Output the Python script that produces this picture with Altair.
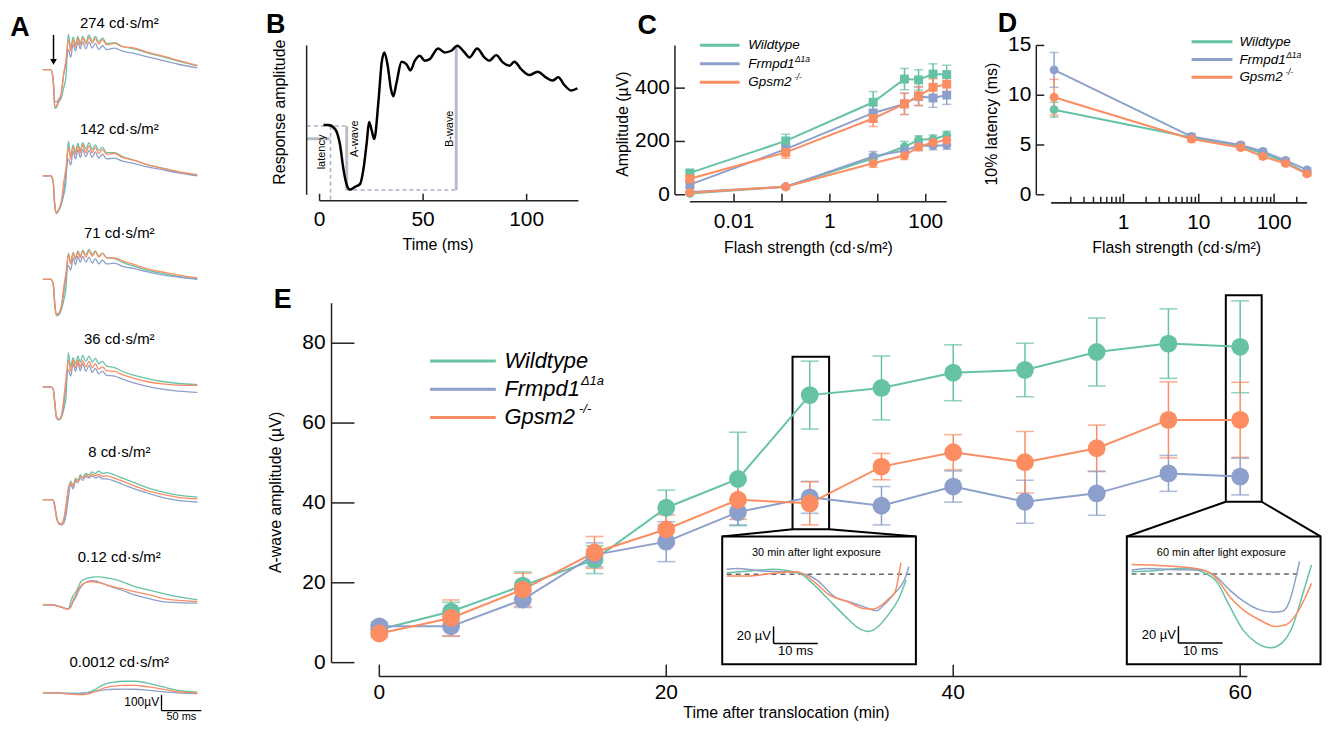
import altair as alt
import pandas as pd

FONT = "Liberation Sans"
AXC = "#222222"

GENOS = ["Wildtype", "Frmpd1", "Gpsm2"]
GENO_SUPS = ["", "Δ1a", "-/-"]
COLORS = ["#66c2a5", "#8da0cb", "#fc8d62"]

# ---------------- Panel A : example ERG traces (µV) ----------------
A_LABELS = ["274 cd·s/m²", "142 cd·s/m²", "71 cd·s/m²", "36 cd·s/m²",
            "8 cd·s/m²", "0.12 cd·s/m²", "0.0012 cd·s/m²"]
A_T = [0, 10, 13, 15, 17, 20, 23, 26, 29, 32, 35, 38, 41, 44, 47, 50, 54, 58,
       62, 66, 70, 75, 80, 90, 100, 115, 130, 150, 170, 194]
A_274 = {
    "Wildtype": [0, 0, -70, -250, -245, -210, -185, -120, -50, 230, 140, 210, 165, 215, 170, 215, 180, 225, 185, 215, 180, 205, 170, 175, 150, 135, 110, 85, 55, 25],
    "Frmpd1": [0, 0, -60, -205, -210, -190, -160, -40, 40, 130, 80, 165, 120, 180, 135, 180, 135, 180, 140, 170, 130, 155, 130, 140, 120, 105, 85, 60, 35, 12],
    "Gpsm2": [0, 0, -65, -240, -235, -200, -160, -30, 60, 195, 120, 195, 145, 205, 160, 205, 165, 210, 170, 205, 165, 195, 160, 170, 150, 140, 115, 90, 60, 28],
}
A_142 = {
    "Wildtype": [0, 0, -40, -200, -245, -225, -190, -130, -40, 225, 130, 200, 160, 210, 165, 215, 175, 215, 170, 200, 165, 185, 150, 150, 125, 100, 75, 50, 25, 5],
    "Frmpd1": [0, 0, -35, -180, -235, -220, -180, -110, 20, 110, 70, 160, 110, 170, 120, 170, 125, 165, 120, 155, 115, 140, 110, 115, 95, 80, 60, 40, 20, 0],
    "Gpsm2": [0, 0, -40, -195, -240, -215, -170, -50, 50, 185, 110, 190, 140, 195, 150, 200, 150, 195, 150, 185, 145, 170, 140, 145, 120, 100, 75, 50, 28, 8],
}
A_71 = {
    "Wildtype": [0, 0, -30, -170, -235, -230, -200, -140, -60, 170, 110, 175, 140, 185, 150, 190, 160, 195, 160, 185, 150, 170, 140, 135, 110, 85, 60, 40, 20, 5],
    "Frmpd1": [0, 0, -25, -150, -225, -220, -185, -100, 20, 90, 60, 140, 95, 150, 110, 150, 110, 145, 105, 135, 100, 125, 100, 105, 85, 70, 50, 30, 15, 0],
    "Gpsm2": [0, 0, -30, -165, -230, -220, -180, -60, 40, 160, 100, 170, 130, 180, 140, 185, 145, 185, 150, 180, 145, 170, 140, 140, 120, 95, 70, 48, 28, 10],
}
A_36 = {
    "Wildtype": [0, 0, -15, -110, -200, -215, -200, -150, -70, 220, 130, 190, 150, 200, 160, 205, 165, 200, 160, 185, 150, 165, 135, 125, 100, 75, 55, 35, 22, 15],
    "Frmpd1": [0, 0, -12, -95, -190, -210, -195, -130, 10, 110, 70, 150, 100, 155, 105, 150, 100, 140, 95, 120, 85, 100, 75, 70, 50, 25, 5, -15, -28, -36],
    "Gpsm2": [0, 0, -15, -105, -195, -210, -190, -90, 50, 170, 100, 175, 125, 175, 130, 170, 130, 165, 125, 150, 115, 130, 105, 100, 80, 55, 35, 20, 12, 10],
}
A_8 = {
    "Wildtype": [0, 0, -5, -40, -110, -150, -155, -140, -60, 60, 120, 90, 140, 125, 160, 145, 170, 160, 180, 170, 185, 170, 175, 160, 140, 110, 80, 50, 30, 17],
    "Frmpd1": [0, 0, -5, -40, -105, -155, -165, -155, -100, 10, 100, 70, 120, 110, 140, 125, 150, 140, 155, 140, 150, 135, 135, 120, 100, 70, 45, 15, -5, -15],
    "Gpsm2": [0, 0, -5, -40, -110, -155, -160, -130, -40, 70, 110, 85, 130, 120, 150, 140, 160, 150, 165, 155, 165, 150, 155, 140, 120, 90, 60, 35, 15, 5],
}
A_012 = {
    "Wildtype": [0, 0, 0, -2, -5, -9, -14, -19, -24, -27, 20, 60, 80, 110, 145, 160, 170, 175, 180, 182, 182, 180, 175, 165, 150, 120, 100, 75, 52, 34],
    "Frmpd1": [0, 0, 0, -2, -5, -9, -14, -19, -24, -27, -15, 20, 45, 80, 110, 130, 145, 155, 157, 155, 150, 140, 130, 110, 95, 65, 45, 22, 15, 11],
    "Gpsm2": [0, 0, 0, -3, -6, -10, -15, -20, -25, -28, -10, 30, 60, 95, 120, 135, 145, 150, 150, 148, 145, 138, 130, 115, 105, 86, 70, 43, 30, 22],
}
A_00012 = {
    "Wildtype": [0, 0, 0, 0, 0, -1, -2, -3, -3, -4, -4, -4, -4, -3, -3, -2, 0, 5, 12, 22, 35, 50, 60, 70, 75, 75, 65, 40, 15, 5],
    "Frmpd1": [0, 0, 0, 0, 0, -1, -1, -2, -2, -3, -3, -3, -3, -3, -3, -2, -1, 2, 5, 9, 13, 17, 20, 23, 24, 23, 18, 8, 0, -5],
    "Gpsm2": [0, 0, 0, 0, -1, -2, -3, -5, -6, -8, -9, -10, -11, -12, -12, -12, -10, -5, 2, 10, 18, 28, 36, 44, 48, 48, 40, 24, 6, 0],
}
A_SETS = [A_274, A_142, A_71, A_36, A_8, A_012, A_00012]

# ---------------- Panel B : schematic response ----------------
B_T = [1.9, 4.3, 7.5, 9.9, 11.5, 13.1, 14.7, 17.1, 19.6, 21.2, 22.8, 23.9, 25.2, 26.4, 28.4,
       30.0, 31.3, 32.9, 34.5, 35.6, 37.2, 39.6, 42.0, 43.9, 46.0, 48.4, 50.8, 53.2, 57.2,
       60.4, 63.6, 66.5, 70.0, 72.4, 76.1, 79.6, 82.0, 85.3, 88.5, 91.7, 94.1, 97.3, 101.3,
       105.3, 109.3, 112.5, 115.3, 118.2, 121.6, 124.5]
B_AMP = [0, 0, -4, -20, -44, -60, -64.7, -62, -59, -44, -17, 3, -5.6, -14, 23,
         63, 73, 59.7, 36, 29, 43, 63.7, 61, 55, 64.7, 69.7, 64.7, 66.3, 77,
         73, 74.7, 79.7, 73, 68, 77, 68, 64.7, 70.3, 63, 59.7, 63.7, 56.3, 50.3,
         53.7, 48, 44.7, 48, 40.3, 34.7, 37]
B_SOLID = [(-6.1, -13.7, 5.1, -13.7), (13.1, -1.0, 13.1, -65.3), (66.0, 79.7, 66.0, -65.3)]
B_DASHED = [(-6.1, -1.0, 13.1, -1.0), (5.3, -1.0, 5.3, -76.0), (13.1, -65.3, 66.0, -65.3)]
B_NOTES = [("latency", 1.1, -27.0), ("A-wave", 17.2, -13.7), ("B-wave", 62.8, -3.7)]
B_XTICKS = [0, 50, 100]

# ---------------- Panel C : amplitudes ----------------
C_FLASH = [0.0012, 0.12, 8, 36, 71, 142, 274]
C_BWAVE = {"Wildtype": [82, 202, 347, 434, 431, 453, 451],
           "Frmpd1": [38, 171, 307, 341, 369, 363, 374],
           "Gpsm2": [60, 159, 286, 341, 371, 403, 415]}
C_BWAVE_SEM = {"Wildtype": [10, 25, 40, 40, 38, 38, 35],
               "Frmpd1": [12, 20, 30, 40, 35, 35, 35],
               "Gpsm2": [10, 22, 30, 40, 35, 32, 30]}
C_AWAVE = {"Wildtype": [5, 30, 137, 180, 206, 209, 223],
           "Frmpd1": [10, 30, 144, 166, 184, 184, 186],
           "Gpsm2": [8, 30, 118, 147, 180, 196, 205]}
C_AWAVE_SEM = {"Wildtype": [4, 6, 15, 20, 15, 15, 15],
               "Frmpd1": [4, 6, 18, 18, 15, 15, 15],
               "Gpsm2": [4, 6, 15, 15, 15, 15, 15]}
C_XTICKS = [0.01, 0.1, 1, 10, 100]
C_XLABELS = [0.01, 1, 100]
C_YTICKS = [0, 200, 400]

# ---------------- Panel D : latency ----------------
D_FLASH = [0.12, 8, 36, 71, 142, 274]
D_LAT = {"Wildtype": [8.55, 5.75, 4.9, 4.15, 3.3, 2.15],
         "Frmpd1": [12.55, 5.85, 5.0, 4.35, 3.45, 2.5],
         "Gpsm2": [9.8, 5.6, 4.75, 3.85, 3.15, 2.1]}
D_LAT_SEM = {"Wildtype": [0.75, 0.3, 0.25, 0.25, 0.2, 0.2],
             "Frmpd1": [1.75, 0.3, 0.25, 0.25, 0.2, 0.2],
             "Gpsm2": [1.8, 0.3, 0.25, 0.25, 0.2, 0.2]}
D_XMAJOR = [1, 10, 100]
D_XMINOR = [0.2, 0.3, 0.4, 0.5, 0.6, 0.7, 0.8, 0.9, 2, 3, 4, 5, 6, 7, 8, 9,
            20, 30, 40, 50, 60, 70, 80, 90, 200]
D_YTICKS = [0, 5, 10, 15]

# ---------------- Panel E : a-wave recovery ----------------
E_TIME = [0, 5, 10, 15, 20, 25, 30, 35, 40, 45, 50, 55, 60]
E_AMP = {"Wildtype": [8.3, 12.8, 19.3, 25.8, 38.8, 46.0, 67.0, 68.8, 72.6, 73.3, 77.8, 79.9, 79.1],
         "Frmpd1": [9.1, 9.1, 15.8, 27.0, 30.3, 37.7, 41.4, 39.3, 44.1, 40.3, 42.4, 47.4, 46.6],
         "Gpsm2": [7.3, 11.2, 18.3, 27.6, 33.4, 40.8, 39.9, 49.1, 52.7, 50.2, 53.7, 60.8, 60.8]}
E_SEM = {"Wildtype": [1.2, 2.3, 3.4, 3.5, 4.4, 11.7, 8.5, 8.0, 7.0, 6.7, 8.5, 8.7, 11.5],
         "Frmpd1": [1.0, 2.5, 2.0, 3.0, 5.0, 3.2, 4.0, 4.8, 3.9, 5.4, 5.5, 4.5, 4.6],
         "Gpsm2": [1.0, 4.5, 4.1, 4.0, 3.6, 4.9, 5.4, 3.3, 4.4, 7.7, 5.8, 9.5, 9.4]}
E_XTICKS = [0, 20, 40, 60]
E_YTICKS = [0, 20, 40, 60, 80]
INSET30 = {
    "Wildtype": ([0, 5.2, 10.4, 16.4, 19.4, 23.1, 26.9, 29.8, 32.1, 34.3, 36.5, 38.8, 40.6],
                 [1.9, 4, 5.9, 1.2, -10.6, -30, -50, -63.5, -67.5, -61.6, -48, -30, -6.7]),
    "Frmpd1": ([0, 2.4, 7.7, 13, 17.5, 20.5, 24.3, 28, 31.4, 33.8, 35.6, 38, 40.2, 41.2],
               [5.9, 7, 4, 3, 0.5, -7, -26, -33, -39, -43, -36, -22, -6.7, 9]),
    "Gpsm2": ([0, 5.2, 10.4, 15.8, 19.4, 23.1, 27.6, 30.6, 33.2, 35.1, 36.8, 38.0, 39.4],
              [-2, -2, 1.2, 3, -7, -24, -33, -40, -41, -36, -28, -22, 13.6]),
}
INSET60 = {
    "Wildtype": ([0, 4.9, 12.4, 16.2, 19.2, 22.2, 25.2, 28.2, 31.5, 34.1, 36.4, 38.6, 40.7],
                 [2.7, 4, 7, 2, -8.7, -38, -66, -81, -87, -81, -62, -26, 10.6]),
    "Frmpd1": ([0, 3.4, 8.6, 15.4, 19.2, 22.2, 25.9, 28.9, 31.9, 34.1, 35.6, 36.7, 38.0],
               [4.7, 6.7, 5.5, 4.7, -3.2, -19, -34, -42, -45, -44, -34, -14.6, 14.9]),
    "Gpsm2": ([0, 4.9, 10.9, 16.2, 19.2, 22.2, 25.2, 28.9, 32.6, 34.9, 37.2, 39.1, 40.7],
              [11.4, 10.6, 8.6, 4.7, -5.1, -26.7, -42, -54, -62, -60, -48, -30, -11]),
}

# ---------------- canvas & helpers ----------------
W, H = 1314, 715          # one drawing canvas; every panel gets its own scales
OFF = 8                   # page margin: canvas = page - 8


def c(v):
    return v - OFF


ONE = pd.DataFrame({"k": [0]})
CSCALE = alt.Scale(domain=GENOS, range=COLORS)
COLOR = alt.Color("geno:N", scale=CSCALE, legend=None)
TICK_FS, TITLE_FS = 21, 16


def lin(domain, rng):
    return alt.Scale(domain=domain, range=rng, nice=False, zero=False)


def logs(domain, rng):
    return alt.Scale(type="log", domain=domain, range=rng, nice=False)


def txt(s, x, y, fs, angle=0, align="center", baseline="middle", **kw):
    props = dict(text=s, font=FONT, fontSize=fs, align=align, baseline=baseline, color="black", **kw)
    if angle:
        props["angle"] = angle
    return alt.Chart(ONE).mark_text(**props).encode(x=alt.value(x), y=alt.value(y))


def letter(s, x, y):
    return txt(s, x, y, 27, fontWeight="bold")


def xaxis(scale, d0, d1, y, tick_vals, tick_len, label_vals, label_y):
    dom = alt.Chart(pd.DataFrame({"a": [d0], "b": [d1]})).mark_rule(color=AXC, strokeWidth=1.5).encode(
        x=alt.X("a:Q", scale=scale, axis=None), x2="b:Q", y=alt.value(y))
    tk = alt.Chart(pd.DataFrame({"v": tick_vals})).mark_rule(color=AXC, strokeWidth=1.5).encode(
        x=alt.X("v:Q", scale=scale, axis=None), y=alt.value(y), y2=alt.value(y - tick_len))
    layers = [dom, tk]
    if label_vals:
        lab = pd.DataFrame({"v": label_vals, "lab": [f"{v:g}" for v in label_vals]})
        layers.append(alt.Chart(lab).mark_text(font=FONT, fontSize=TICK_FS, color="black",
                                               align="center", baseline="middle").encode(
            x=alt.X("v:Q", scale=scale, axis=None), y=alt.value(label_y), text="lab:N"))
    return layers


def yaxis(scale, d0, d1, x, tick_vals, tick_len, label_x):
    dom = alt.Chart(pd.DataFrame({"a": [d0], "b": [d1]})).mark_rule(color=AXC, strokeWidth=1.5).encode(
        y=alt.Y("a:Q", scale=scale, axis=None), y2="b:Q", x=alt.value(x))
    layers = [dom]
    if tick_vals:
        layers.append(alt.Chart(pd.DataFrame({"v": tick_vals})).mark_rule(color=AXC, strokeWidth=1.5).encode(
            y=alt.Y("v:Q", scale=scale, axis=None), x=alt.value(x), x2=alt.value(x + tick_len)))
        lab = pd.DataFrame({"v": tick_vals, "lab": [f"{v:g}" for v in tick_vals]})
        layers.append(alt.Chart(lab).mark_text(font=FONT, fontSize=TICK_FS, color="black",
                                               align="right", baseline="middle").encode(
            y=alt.Y("v:Q", scale=scale, axis=None), x=alt.value(label_x), text="lab:N"))
    return layers


def legend(x0, x1, xt, y0, dy, fs, sup_x, sup_dy, sup_fs, lw):
    out = []
    for i, g in enumerate(GENOS):
        y = y0 + i * dy
        out.append(alt.Chart(ONE).mark_rule(color=COLORS[i], strokeWidth=lw).encode(
            x=alt.value(x0), x2=alt.value(x1), y=alt.value(y)))
        out.append(txt(g, xt, y, fs, align="left", fontStyle="italic"))
        if GENO_SUPS[i]:
            out.append(txt(GENO_SUPS[i], sup_x[i], y + sup_dy, sup_fs, align="left", fontStyle="italic"))
    return out


# ================= Panel A =================
A_PX_MS, A_PX_UV = 0.8, 0.155
A_BASE = [c(v) for v in [67.3, 174, 278, 386, 499.3, 605, 693.3]]
A_TITLE_Y = [c(v) for v in [20.7, 126.7, 231.7, 338.3, 451.7, 557.3, 662.7]]
AXS = lin([0, 250], [c(43), c(43) + 250 * A_PX_MS])
AYS = lin([-H / A_PX_UV, 0], [H, 0])

rows = []
for i, traces in enumerate(A_SETS):
    for g in GENOS:
        for t, v in zip(A_T, traces[g]):
            rows.append({"panel": i, "geno": g, "t": t, "yv": v - A_BASE[i] / A_PX_UV})
a_df = pd.DataFrame(rows)
a_titles = pd.DataFrame({"lab": A_LABELS, "t": [96.0] * 7,
                         "yv": [-y / A_PX_UV for y in A_TITLE_Y]})

A_lines = alt.Chart(a_df).mark_line(strokeWidth=1.3, interpolate="monotone").encode(
    x=alt.X("t:Q", scale=AXS, axis=None),
    y=alt.Y("yv:Q", scale=AYS, axis=None),
    color=COLOR, detail="panel:N")
A_text = alt.Chart(a_titles).mark_text(font=FONT, fontSize=15, color="black").encode(
    x=alt.X("t:Q", scale=AXS, axis=None), y=alt.Y("yv:Q", scale=AYS, axis=None), text="lab:N")

p0 = A_BASE[0] / A_PX_UV
arrow_df = pd.DataFrame({"t": [13.4], "y1": [225 - p0], "y2": [60 - p0], "yh": [50 - p0]})
A_arrow = alt.Chart(arrow_df).mark_rule(color="black", strokeWidth=1.5).encode(
    x=alt.X("t:Q", scale=AXS, axis=None), y=alt.Y("y1:Q", scale=AYS, axis=None), y2="y2:Q")
A_head = alt.Chart(arrow_df).mark_point(shape="triangle-down", filled=True, color="black",
                                        size=45, opacity=1).encode(
    x=alt.X("t:Q", scale=AXS, axis=None), y=alt.Y("yh:Q", scale=AYS, axis=None))

p6 = A_BASE[6] / A_PX_UV
sb = pd.DataFrame({"t0": [149.0], "t1": [199.0], "yb": [-115 - p6], "yt": [-15 - p6]})
A_sb_v = alt.Chart(sb).mark_rule(color="black", strokeWidth=1.3).encode(
    x=alt.X("t0:Q", scale=AXS, axis=None), y=alt.Y("yb:Q", scale=AYS, axis=None), y2="yt:Q")
A_sb_h = alt.Chart(sb).mark_rule(color="black", strokeWidth=1.3).encode(
    x=alt.X("t0:Q", scale=AXS, axis=None), x2="t1:Q", y=alt.Y("yb:Q", scale=AYS, axis=None))
sb_t1 = pd.DataFrame({"lab": ["100µV"], "t": [146.0], "yv": [-62 - p6]})
A_sb_t1 = alt.Chart(sb_t1).mark_text(font=FONT, fontSize=12, align="right", baseline="middle",
                                     color="black").encode(
    x=alt.X("t:Q", scale=AXS, axis=None), y=alt.Y("yv:Q", scale=AYS, axis=None), text="lab:N")
sb_t2 = pd.DataFrame({"lab": ["50 ms"], "t": [174.0], "yv": [-121 - p6]})
A_sb_t2 = alt.Chart(sb_t2).mark_text(font=FONT, fontSize=11, align="center", baseline="top",
                                     color="black").encode(
    x=alt.X("t:Q", scale=AXS, axis=None), y=alt.Y("yv:Q", scale=AYS, axis=None), text="lab:N")

PANEL_A = alt.layer(A_lines, A_text, A_arrow, A_head, A_sb_v, A_sb_h, A_sb_t1, A_sb_t2)

# ================= Panel B =================
BX = lin([0, 125], [c(321), c(581)])
BY = lin([-70, 80], [c(193), c(43)])
b_df = pd.DataFrame({"t": B_T, "amp": B_AMP})
B_line = alt.Chart(b_df).mark_line(color="black", strokeWidth=2.5, interpolate="monotone").encode(
    x=alt.X("t:Q", scale=BX, axis=None), y=alt.Y("amp:Q", scale=BY, axis=None))
bs = pd.DataFrame(B_SOLID, columns=["x", "y", "x2", "y2"])
bd = pd.DataFrame(B_DASHED, columns=["x", "y", "x2", "y2"])
bn = pd.DataFrame(B_NOTES, columns=["lab", "x", "y"])
B_solid = alt.Chart(bs).mark_rule(color="#b9bcc8", strokeWidth=3).encode(
    x=alt.X("x:Q", scale=BX, axis=None), x2="x2:Q", y=alt.Y("y:Q", scale=BY, axis=None), y2="y2:Q")
B_dash = alt.Chart(bd).mark_rule(color="#a9aec4", strokeWidth=1.5, strokeDash=[4, 3]).encode(
    x=alt.X("x:Q", scale=BX, axis=None), x2="x2:Q", y=alt.Y("y:Q", scale=BY, axis=None), y2="y2:Q")
B_notes = alt.Chart(bn).mark_text(font=FONT, fontSize=11, angle=270, color="black",
                                  baseline="middle", align="center").encode(
    x=alt.X("x:Q", scale=BX, axis=None), y=alt.Y("y:Q", scale=BY, axis=None), text="lab:N")
PANEL_B = alt.layer(
    B_dash, B_solid, B_line, B_notes,
    *xaxis(BX, 0, 125, c(199), B_XTICKS, 7, B_XTICKS, c(218)),
    *yaxis(BY, -70, 80, c(308), [], 0, 0),
    txt("Time (ms)", c(440), c(243), TITLE_FS),
    txt("Response amplitude", c(281), c(110), TITLE_FS, angle=270))

# ================= Panel C =================
CX = logs([0.0012, 274], [c(693), c(951)])
CY = lin([0, 560], [c(193), c(43)])
rows = []
for g in GENOS:
    for wave, vals, sems in (("b", C_BWAVE[g], C_BWAVE_SEM[g]), ("a", C_AWAVE[g], C_AWAVE_SEM[g])):
        for f, v, s in zip(C_FLASH, vals, sems):
            rows.append({"geno": g, "wave": wave, "f": f, "amp": v, "lo": v - s, "hi": v + s})
c_df = pd.DataFrame(rows)
cb = alt.Chart(c_df)
C_line = cb.mark_line(strokeWidth=2).encode(
    x=alt.X("f:Q", scale=CX, axis=None), y=alt.Y("amp:Q", scale=CY, axis=None),
    color=COLOR, detail="wave:N")
C_err = cb.mark_rule(strokeWidth=1.5).encode(
    x=alt.X("f:Q", scale=CX, axis=None), y=alt.Y("lo:Q", scale=CY, axis=None), y2="hi:Q", color=COLOR)
C_cap1 = cb.mark_tick(orient="horizontal", size=9, thickness=1.5).encode(
    x=alt.X("f:Q", scale=CX, axis=None), y=alt.Y("lo:Q", scale=CY, axis=None), color=COLOR)
C_cap2 = cb.mark_tick(orient="horizontal", size=9, thickness=1.5).encode(
    x=alt.X("f:Q", scale=CX, axis=None), y=alt.Y("hi:Q", scale=CY, axis=None), color=COLOR)
C_pts = cb.mark_point(filled=True, opacity=1, size=80).encode(
    x=alt.X("f:Q", scale=CX, axis=None), y=alt.Y("amp:Q", scale=CY, axis=None), color=COLOR,
    shape=alt.Shape("wave:N", scale=alt.Scale(domain=["b", "a"], range=["square", "circle"]), legend=None))
PANEL_C = alt.layer(
    C_line, C_err, C_cap1, C_cap2, C_pts,
    *xaxis(CX, 0.0012, 274, c(200), C_XTICKS, 8, C_XLABELS, c(220)),
    *yaxis(CY, 0, 560, c(678), C_YTICKS, 10, c(673)),
    txt("Flash strength (cd·s/m²)", c(812), c(246), TITLE_FS),
    txt("Amplitude (µV)", c(626), c(122), TITLE_FS, angle=270))

# ================= Panel D =================
DX = logs([0.11, 274], [c(1056), c(1313)])
DY = lin([0, 15], [c(193), c(43)])
rows = []
for g in GENOS:
    for f, v, s in zip(D_FLASH, D_LAT[g], D_LAT_SEM[g]):
        rows.append({"geno": g, "f": f, "lat": v, "lo": v - s, "hi": v + s})
d_df = pd.DataFrame(rows)
db = alt.Chart(d_df)
D_line = db.mark_line(strokeWidth=2).encode(
    x=alt.X("f:Q", scale=DX, axis=None), y=alt.Y("lat:Q", scale=DY, axis=None), color=COLOR)
D_err = db.mark_rule(strokeWidth=1.5).encode(
    x=alt.X("f:Q", scale=DX, axis=None), y=alt.Y("lo:Q", scale=DY, axis=None), y2="hi:Q", color=COLOR)
D_cap1 = db.mark_tick(orient="horizontal", size=9, thickness=1.5).encode(
    x=alt.X("f:Q", scale=DX, axis=None), y=alt.Y("lo:Q", scale=DY, axis=None), color=COLOR)
D_cap2 = db.mark_tick(orient="horizontal", size=9, thickness=1.5).encode(
    x=alt.X("f:Q", scale=DX, axis=None), y=alt.Y("hi:Q", scale=DY, axis=None), color=COLOR)
D_pts = db.mark_circle(opacity=1, size=80).encode(
    x=alt.X("f:Q", scale=DX, axis=None), y=alt.Y("lat:Q", scale=DY, axis=None), color=COLOR)
PANEL_D = alt.layer(
    D_line, D_err, D_cap1, D_cap2, D_pts,
    *xaxis(DX, 0.11, 274, c(201), D_XMINOR, 6, [], 0),
    *xaxis(DX, 0.11, 274, c(201), D_XMAJOR, 9, D_XMAJOR, c(221)),
    *yaxis(DY, 0, 15, c(1041), D_YTICKS, 8, c(1036)),
    txt("Flash strength (cd·s/m²)", c(1182), c(246), TITLE_FS),
    txt("10% latency (ms)", c(997), c(122), TITLE_FS, angle=270))

# ================= Panel E =================
EX = lin([0, 60.5], [c(381), c(1253)])
EY = lin([0, 90], [c(663), c(302)])
rows = []
for g in GENOS:
    for t, v, s in zip(E_TIME, E_AMP[g], E_SEM[g]):
        rows.append({"geno": g, "t": t, "amp": v, "lo": v - s, "hi": v + s})
e_df = pd.DataFrame(rows)
eb = alt.Chart(e_df)
E_line = eb.mark_line(strokeWidth=2).encode(
    x=alt.X("t:Q", scale=EX, axis=None), y=alt.Y("amp:Q", scale=EY, axis=None), color=COLOR)
E_err = eb.mark_rule(strokeWidth=1.5).encode(
    x=alt.X("t:Q", scale=EX, axis=None), y=alt.Y("lo:Q", scale=EY, axis=None), y2="hi:Q", color=COLOR)
E_cap1 = eb.mark_tick(orient="horizontal", size=18, thickness=1.6).encode(
    x=alt.X("t:Q", scale=EX, axis=None), y=alt.Y("lo:Q", scale=EY, axis=None), color=COLOR)
E_cap2 = eb.mark_tick(orient="horizontal", size=18, thickness=1.6).encode(
    x=alt.X("t:Q", scale=EX, axis=None), y=alt.Y("hi:Q", scale=EY, axis=None), color=COLOR)
E_pts = eb.mark_circle(opacity=1, size=320).encode(
    x=alt.X("t:Q", scale=EX, axis=None), y=alt.Y("amp:Q", scale=EY, axis=None), color=COLOR)

E_COL_BOXES = [(28.8, 31.35, 33.4, 76.6), (59.0, 61.5, 40.3, 92.0)]
E_INSET_BOXES = [(23.9, 37.4, -0.4, 31.6), (52.1, 65.6, -0.4, 31.6)]
E_LINKS = [(28.8, 33.4, 23.9, 31.6), (31.35, 33.4, 37.4, 31.6),
           (59.0, 40.3, 52.1, 31.6), (61.5, 40.3, 65.6, 31.6)]
colb = pd.DataFrame(E_COL_BOXES, columns=["x", "x2", "y", "y2"])
insb = pd.DataFrame(E_INSET_BOXES, columns=["x", "x2", "y", "y2"])
lnk = pd.DataFrame(E_LINKS, columns=["x", "y", "x2", "y2"])
E_colbox = alt.Chart(colb).mark_rect(fill=None, stroke="black", strokeWidth=2).encode(
    x=alt.X("x:Q", scale=EX, axis=None), x2="x2:Q", y=alt.Y("y:Q", scale=EY, axis=None), y2="y2:Q")
E_insbox = alt.Chart(insb).mark_rect(fill="white", stroke="black", strokeWidth=2).encode(
    x=alt.X("x:Q", scale=EX, axis=None), x2="x2:Q", y=alt.Y("y:Q", scale=EY, axis=None), y2="y2:Q")
E_links = alt.Chart(lnk).mark_rule(color="black", strokeWidth=2).encode(
    x=alt.X("x:Q", scale=EX, axis=None), x2="x2:Q", y=alt.Y("y:Q", scale=EY, axis=None), y2="y2:Q")
PANEL_E = alt.layer(
    E_colbox, E_links, E_err, E_cap1, E_cap2, E_line, E_pts, E_insbox,
    *xaxis(EX, 0, 60.5, c(677), E_XTICKS, 12, E_XTICKS, c(694)),
    *yaxis(EY, 0, 90, c(333), E_YTICKS, 23, c(327)),
    txt("Time after translocation (min)", c(790), c(714), TITLE_FS),
    txt("A-wave amplitude (µV)", c(277), c(492), TITLE_FS, angle=270))

INS_PX_MS, INS_PX_UV = 4.44, 0.85


def inset(traces, px0, py0, title, dash_end):
    xs = lin([0, 40], [c(px0), c(px0) + 40 * INS_PX_MS])
    ys = lin([-100, 30], [c(py0) + 100 * INS_PX_UV, c(py0) - 30 * INS_PX_UV])
    rows = []
    for g in GENOS:
        ts, vs = traces[g]
        for t, v in zip(ts, vs):
            rows.append({"geno": g, "t": t, "a": v})
    tr = alt.Chart(pd.DataFrame(rows)).mark_line(strokeWidth=1.5, interpolate="monotone").encode(
        x=alt.X("t:Q", scale=xs, axis=None), y=alt.Y("a:Q", scale=ys, axis=None), color=COLOR)
    dash = alt.Chart(pd.DataFrame({"x": [0.0], "x2": [dash_end], "y": [0.0]})).mark_rule(
        color="#666666", strokeWidth=1.5, strokeDash=[5, 4]).encode(
        x=alt.X("x:Q", scale=xs, axis=None), x2="x2:Q", y=alt.Y("y:Q", scale=ys, axis=None))
    bars = pd.DataFrame({"x": [10.6, 10.6], "x2": [10.6, 20.6], "y": [-61.6, -81.6], "y2": [-81.6, -81.6]})
    sbar = alt.Chart(bars).mark_rule(color="black", strokeWidth=1.5).encode(
        x=alt.X("x:Q", scale=xs, axis=None), x2="x2:Q", y=alt.Y("y:Q", scale=ys, axis=None), y2="y2:Q")
    t1 = alt.Chart(pd.DataFrame({"lab": ["20 µV"], "x": [10.0], "y": [-72.6]})).mark_text(
        font=FONT, fontSize=13, align="right", baseline="middle", color="black").encode(
        x=alt.X("x:Q", scale=xs, axis=None), y=alt.Y("y:Q", scale=ys, axis=None), text="lab:N")
    t2 = alt.Chart(pd.DataFrame({"lab": ["10 ms"], "x": [15.6], "y": [-91.0]})).mark_text(
        font=FONT, fontSize=13, align="center", baseline="middle", color="black").encode(
        x=alt.X("x:Q", scale=xs, axis=None), y=alt.Y("y:Q", scale=ys, axis=None), text="lab:N")
    ttl = alt.Chart(pd.DataFrame({"lab": [title], "x": [20.3], "y": [25.4]})).mark_text(
        font=FONT, fontSize=11, align="center", baseline="middle", color="black").encode(
        x=alt.X("x:Q", scale=xs, axis=None), y=alt.Y("y:Q", scale=ys, axis=None), text="lab:N")
    return alt.layer(dash, tr, sbar, t1, t2, ttl)


INSET_A = inset(INSET30, 730, 574.3, "30 min after light exposure", 41.5)
INSET_B = inset(INSET60, 1136.7, 574, "60 min after light exposure", 37.9)

# legends and panel letters (fixed positions on the canvas)
DECOR = alt.layer(
    *legend(c(703), c(743), c(751.7), c(42.7), 18.65, 13.5, [0, c(798.5), c(797.5)], -5, 8.5, 3),
    *legend(c(1197), c(1238), c(1245), c(39.3), 17.85, 13.5, [0, c(1292), c(1291)], -5, 8.5, 3),
    *legend(c(432), c(498), c(506.7), c(360), 28.35, 22, [0, c(583.5), c(581.6)], -8, 13, 3),
    letter("A", c(20), c(25)), letter("B", c(277), c(22)), letter("C", c(650), c(23)),
    letter("D", c(1012), c(21.5)), letter("E", c(284), c(299)))

chart = alt.layer(PANEL_A, PANEL_B, PANEL_C, PANEL_D, PANEL_E, INSET_A, INSET_B, DECOR).resolve_scale(
    x="independent", y="independent"
).properties(width=W, height=H, padding=0).configure(font=FONT).configure_view(stroke=None)

chart.save("out.html", embed_options={"renderer": "svg", "actions": False})
